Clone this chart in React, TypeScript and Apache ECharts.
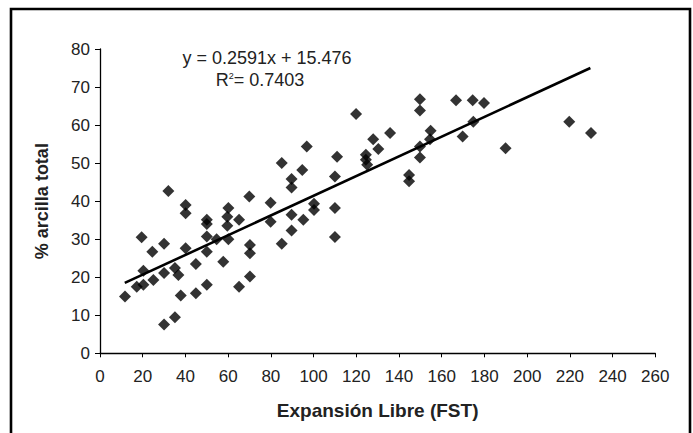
import React, { useEffect, useRef } from "react";
import * as echarts from "echarts";

const expansionLibre = [
  11.7, 17.2, 20.3, 20.3, 25.0, 19.5, 24.5, 30.0, 30.0, 30.0, 35.1, 35.1, 36.7, 37.8, 40.1, 40.1,
  40.1, 44.9, 44.9, 50.0, 50.0, 50.0, 50.0, 50.0, 54.6, 57.7, 60.1, 59.6, 59.6, 60.1, 65.1, 65.1,
  69.9, 70.2, 70.2, 70.2, 79.9, 79.9, 85.1, 89.7, 89.7, 95.2, 100.2, 100.2, 110.0, 110.0, 32.0,
  85.1, 96.8, 94.7, 89.7, 89.7, 111.0, 110.0, 119.9, 124.5, 124.5, 125.1, 127.9, 130.3, 135.8,
  144.7, 144.7, 149.8, 149.8, 149.8, 149.8, 154.8, 154.5, 166.7, 169.8, 174.5, 179.8, 174.8,
  189.9, 219.7, 229.9,
];
const arcillaTotal = [
  14.9, 17.5, 21.7, 18.0, 19.3, 30.5, 26.7, 28.8, 21.1, 7.6, 9.5, 22.4, 20.6, 15.2, 39.0, 36.8,
  27.6, 23.5, 15.8, 35.1, 34.0, 30.7, 26.7, 18.0, 30.0, 24.1, 38.2, 35.9, 33.5, 30.0, 35.1, 17.5,
  41.2, 28.5, 26.3, 20.2, 39.6, 34.6, 28.8, 36.4, 32.3, 35.1, 39.3, 37.7, 38.2, 30.6, 42.7,
  50.0, 54.4, 48.2, 45.8, 43.6, 51.7, 46.5, 62.9, 52.2, 50.9, 49.6, 56.3, 53.7, 57.9,
  46.9, 45.2, 66.8, 63.8, 54.4, 51.5, 58.5, 56.3, 66.5, 57.0, 66.5, 65.8, 60.9,
  53.9, 60.9, 57.9,
];
const trendX = [11.6, 229.6];
const trendY = [18.5, 75.0];
const equationText = "y = 0.2591x + 15.476";
const r2Value = "0.7403";
const xAxisTitle = "Expansión Libre (FST)";
const yAxisTitle = "% arcilla total";

export default function App() {
  const ref = useRef<HTMLDivElement>(null);
  useEffect(() => {
    if (!ref.current) return;
    const chart = echarts.init(ref.current, null, { renderer: "svg" });
    const font = "'Liberation Sans', Arial, sans-serif";
    const textColor = "#222222";
    chart.setOption({
      animation: false,
      backgroundColor: "#ffffff",
      grid: { left: 100, right: 37.7, top: 49, bottom: 79.7 },
      xAxis: {
        type: "value",
        min: 0,
        max: 260,
        interval: 20,
        name: xAxisTitle,
        nameLocation: "middle",
        nameGap: 48,
        nameTextStyle: { fontFamily: font, fontSize: 19, fontWeight: "bold", color: textColor },
        axisLine: { show: true, onZero: false, lineStyle: { color: "#000", width: 1.3 } },
        axisTick: { show: true, inside: false, length: 4, lineStyle: { color: "#000" } },
        axisLabel: { fontFamily: font, fontSize: 17, color: textColor, margin: 15 },
        splitLine: { show: false },
      },
      yAxis: {
        type: "value",
        min: 0,
        max: 80,
        interval: 10,
        name: yAxisTitle,
        nameLocation: "middle",
        nameGap: 49,
        nameTextStyle: { fontFamily: font, fontSize: 18, fontWeight: "bold", color: textColor },
        axisLine: { show: true, onZero: false, lineStyle: { color: "#000", width: 1.3 } },
        axisTick: { show: true, inside: false, length: 5, lineStyle: { color: "#000" } },
        axisLabel: { fontFamily: font, fontSize: 17, color: textColor, margin: 10 },
        splitLine: { show: false },
      },
      series: [
        {
          type: "scatter",
          symbol: "diamond",
          symbolSize: 12,
          itemStyle: { color: "#000" },
          data: expansionLibre.map((x, i) => [x, arcillaTotal[i]]),
          z: 3,
        },
        {
          type: "line",
          symbol: "none",
          lineStyle: { color: "#000", width: 2.6 },
          data: trendX.map((x, i) => [x, trendY[i]]),
          z: 4,
        },
      ],
      graphic: [
        {
          type: "rect",
          shape: { x: 11, y: 9, width: 679, height: 440 },
          style: { fill: "none", stroke: "#000", lineWidth: 2.6 },
          silent: true,
        },
        {
          type: "text",
          x: 267,
          y: 58,
          style: {
            text: equationText,
            fontFamily: font,
            fontSize: 18,
            fill: textColor,
            align: "center",
            verticalAlign: "middle",
          },
        },
        {
          type: "text",
          x: 260,
          y: 80,
          style: {
            text: "R{sup|2}= " + r2Value,
            fontFamily: font,
            fontSize: 18,
            fill: textColor,
            align: "center",
            verticalAlign: "middle",
            rich: {
              sup: { fontSize: 9, verticalAlign: "top", padding: [0, 0, 9, 0], fontFamily: font, fill: textColor },
            },
          },
        },
      ],
    });
    return () => chart.dispose();
  }, []);
  return (
    <div
      ref={ref}
      style={{ position: "fixed", left: 0, top: 0, width: 693, height: 433 }}
    />
  );
}
